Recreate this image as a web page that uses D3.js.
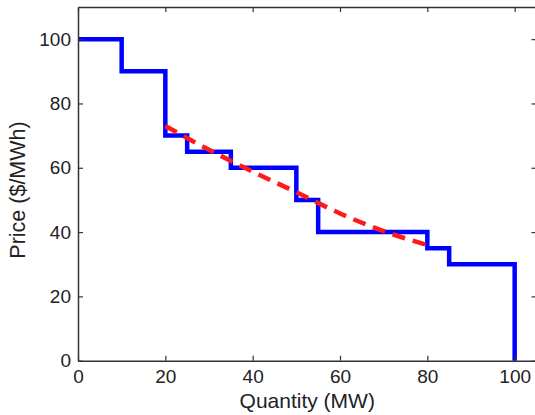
<!DOCTYPE html>
<html>
<head>
<meta charset="utf-8">
<script src="https://cdn.jsdelivr.net/npm/d3@7"></script>
<style>
  body { margin: 0; background: #fff; }
  text { font-family: "Liberation Sans", Arial, sans-serif; fill: #222; }
</style>
</head>
<body>
<div id="vis"></div>
<script>
// supply curve steps: quantity where each step starts, price of that step
var stepQty   = [0, 10, 20, 25, 35, 50, 55, 80, 85, 100];
var stepPrice = [100, 90, 70, 65, 60, 50, 40, 35, 30, 0];

// fitted curve (red dashed)
var fitQty   = [20, 30, 40, 50, 60, 70, 80];
var fitPrice = [73, 65.6, 58.8, 52.4, 45.8, 40.3, 36];

var xTicks = [0, 20, 40, 60, 80, 100];
var yTicks = [0, 20, 40, 60, 80, 100];

var width = 535, height = 415;
var margin = {top: 7, left: 78, bottom: 54.3};
var plotW = 458.5, plotH = height - margin.top - margin.bottom;

var svg = d3.select("#vis").append("svg")
    .attr("width", width)
    .attr("height", height);

var x = d3.scaleLinear().domain([0, 105]).range([margin.left, margin.left + plotW]);
var y = d3.scaleLinear().domain([0, 110]).range([margin.top + plotH, margin.top]);

// step path: horizontal then vertical
var stepPts = [];
for (var i = 0; i < stepQty.length - 1; i++) {
    stepPts.push([stepQty[i], stepPrice[i]]);
    stepPts.push([stepQty[i + 1], stepPrice[i]]);
}
stepPts.push([stepQty[stepQty.length - 1], stepPrice[stepPrice.length - 1]]);

var line = d3.line().x(function(d){ return x(d[0]); }).y(function(d){ return y(d[1]); });

svg.append("path")
    .datum(stepPts)
    .attr("d", line)
    .attr("fill", "none")
    .attr("stroke", "#0000ff")
    .attr("stroke-width", 4.5);

svg.append("path")
    .datum(fitQty.map(function(q, i){ return [q, fitPrice[i]]; }))
    .attr("d", line.curve(d3.curveMonotoneX))
    .attr("fill", "none")
    .attr("stroke", "#ff1a1a")
    .attr("stroke-width", 4.5)
    .attr("stroke-dasharray", "13,8");

// axes with inward ticks on all four sides
var axisColor = "#333";
function styleAxis(g) {
    g.select(".domain").attr("stroke", axisColor).attr("stroke-width", 1.5);
    g.selectAll(".tick line").attr("stroke", axisColor).attr("stroke-width", 1.2);
    g.selectAll(".tick text").attr("fill", "#222").style("font-size", "19px")
        .style("font-family", "Liberation Sans, Arial, sans-serif");
}

svg.append("g")
    .attr("transform", "translate(0," + y(0) + ")")
    .call(d3.axisBottom(x).tickValues(xTicks).tickSizeInner(-5).tickSizeOuter(0).tickPadding(9))
    .call(styleAxis);

svg.append("g")
    .attr("transform", "translate(0," + y(110) + ")")
    .call(d3.axisTop(x).tickValues(xTicks).tickSizeInner(-5).tickSizeOuter(0).tickFormat(""))
    .call(styleAxis);

svg.append("g")
    .attr("transform", "translate(" + x(0) + ",0)")
    .call(d3.axisLeft(y).tickValues(yTicks).tickSizeInner(-5).tickSizeOuter(0).tickPadding(7))
    .call(styleAxis);

svg.append("g")
    .attr("transform", "translate(" + x(105) + ",0)")
    .call(d3.axisRight(y).tickValues(yTicks).tickSizeInner(-5).tickSizeOuter(0).tickFormat(""))
    .call(styleAxis);

svg.append("text")
    .attr("x", margin.left + plotW / 2)
    .attr("y", 407.5)
    .attr("text-anchor", "middle")
    .style("font-size", "21px")
    .text("Quantity (MW)");

svg.append("text")
    .attr("transform", "translate(25,190) rotate(-90)")
    .attr("text-anchor", "middle")
    .style("font-size", "21.5px")
    .text("Price ($/MWh)");
</script>
</body>
</html>
